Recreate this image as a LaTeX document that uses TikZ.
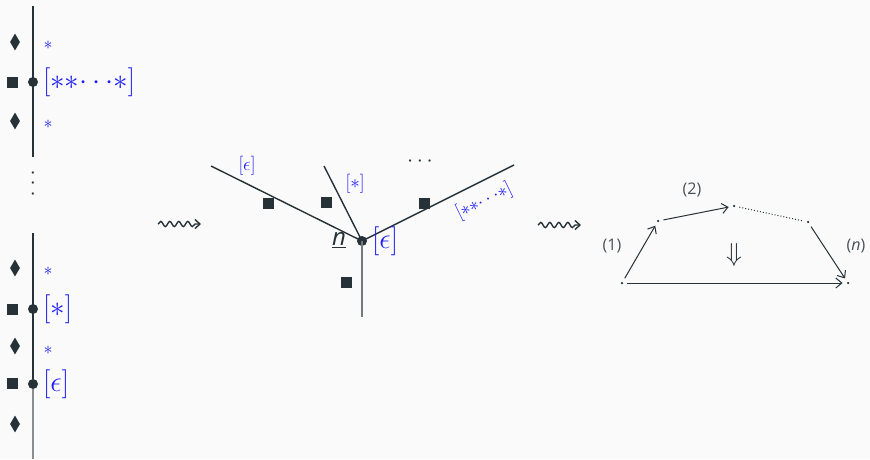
\RequirePackage{fix-cm}
\documentclass[tikz,border=0pt]{standalone}
\usepackage{fontspec}
\setmainfont{Open Sans}
\usetikzlibrary{decorations.pathmorphing,arrows.meta,shapes.geometric}
\definecolor{ink}{HTML}{263238}
\definecolor{lbl}{HTML}{1F1FF5}
\definecolor{bg}{HTML}{FAFAFA}
\tikzset{
  ln/.style={draw=ink,line width=2pt},
  lnlight/.style={draw=ink!55,line width=2pt},
  dia/.style={fill=ink,inner sep=0pt,minimum width=10pt,minimum height=17pt,diamond},
  sq/.style={fill=ink,inner sep=0pt,minimum size=11pt},
  pt/.style={circle,fill=ink,inner sep=0pt,minimum size=10pt},
  star/.style={text=lbl,font=\fontsize{18}{21}\selectfont,inner sep=0pt},
  big/.style={text=lbl,font=\fontsize{29}{34}\selectfont,inner sep=0pt,anchor=west},
  smal/.style={text=lbl,font=\fontsize{19}{22}\selectfont,inner sep=0pt},
  squig/.style={draw=ink,line width=1.4pt,decorate,decoration={snake,amplitude=2.6pt,segment length=9pt,post length=4pt},-{Straight Barb[length=5pt,width=9pt]}},
  dotpt/.style={circle,fill=ink,inner sep=0pt,minimum size=2.5pt},
  arr/.style={draw=ink,line width=1pt,-{Straight Barb[length=6pt,width=10pt]},shorten >=4pt,shorten <=4pt},
  num/.style={text=ink!85,font=\fontsize{16}{18}\selectfont,inner sep=0pt},
  edge/.style={draw=ink,line width=1.4pt}
}
\begin{document}
\begin{tikzpicture}[x=1pt,y=-1pt]
\fill[bg] (0,0) rectangle (870,459);
\useasboundingbox (0,0) rectangle (870,459);
% left column
\coordinate (t0) at (33,6);
\coordinate (t1) at (33,157);
\coordinate (b0) at (33,233);
\coordinate (b2) at (33,459);
\draw[ln] (t0) -- (t1);
\node[pt] (p1) at (33,82) {};
\node[pt] (p2) at (33,309) {};
\node[pt] (p3) at (33,384) {};
\draw[ln] (b0) -- (p3);
\draw[lnlight] (p3) -- (b2);
\foreach \y/\n in {42/d1,121/d2,268/d3,346/d4,424/d5} \node[dia] (\n) at (15,\y) {};
\foreach \y/\n in {82/s1,309/s2,383/s3} \node[sq] (\n) at (12,\y) {};
\foreach \y/\n in {45/a1,124/a2,271/a3,350/a4} \node[star] (\n) at (48,\y) {$*$};
\node[big] (l1) at (43,82) {$[{*}{*}{\cdots}{*}]$};
\node[big] (l2) at (43,309) {$[*]$};
\node[big] (l3) at (43,384) {$[\epsilon]$};
\node[text=ink,inner sep=0pt,align=center,font=\fontsize{22}{8.5}\selectfont] (vd) at (33,184) {$\cdot$\\$\cdot$\\$\cdot$};
% squiggles
\coordinate (q0) at (158,224);
\coordinate (q1) at (201,224);
\draw[squig] (q0) -- (q1);
\coordinate (r0) at (538,225);
\coordinate (r1) at (581,225);
\draw[squig] (r0) -- (r1);
% middle
\node[pt] (c) at (362,241) {};
\coordinate (e1) at (211,166);
\coordinate (e2) at (324,166);
\coordinate (e3) at (514,165);
\coordinate (e4) at (362,317);
\draw[edge] (c.center) -- (e1);
\draw[edge] (c.center) -- (e2);
\draw[edge] (c.center) -- (e3);
\draw[edge,draw=ink!65] (c.center) -- (e4);
\node[smal] (m1) at (247,166) {$[\epsilon]$};
\node[smal] (m2) at (355,184) {$[*]$};
\node[smal,rotate=26] (m3) at (484,201) {$[{*}{*}{\cdots}{*}]$};
\node[text=ink,inner sep=0pt,font=\fontsize{22}{24}\selectfont] (md) at (420,162) {$\cdots$};
\foreach \x/\y/\n in {268/203/ms1,326/202/ms2,424/203/ms3,346/282/ms4} \node[sq] (\n) at (\x,\y) {};
\node[text=ink,inner sep=0pt,font=\fontsize{24}{26}\selectfont] (nn) at (339,240) {$\underline{\mathit{n}}$};
\node[big] (cl) at (372,241) {$[\epsilon]$};
% right
\node[dotpt] (v0) at (622,283) {};
\node[dotpt] (v1) at (658,221) {};
\node[dotpt] (v2) at (734,206) {};
\node[dotpt] (v3) at (808,222) {};
\node[dotpt] (v4) at (848,283) {};
\draw[arr] (v0) -- (v1);
\draw[arr] (v1) -- (v2);
\draw[draw=ink,line width=1pt,dotted,shorten >=4pt,shorten <=4pt] (v2) -- (v3);
\draw[arr] (v3) -- (v4);
\draw[arr] (v0) -- (v4);
\node[num] (n1) at (612,246) {(1)};
\node[num] (n2) at (692,190) {(2)};
\node[num] (n3) at (856,246) {(\textit{n})};
\node[text=ink,inner sep=0pt,font=\fontsize{26}{28}\selectfont] (dd) at (734,255) {$\Downarrow$};
\end{tikzpicture}
\end{document}
